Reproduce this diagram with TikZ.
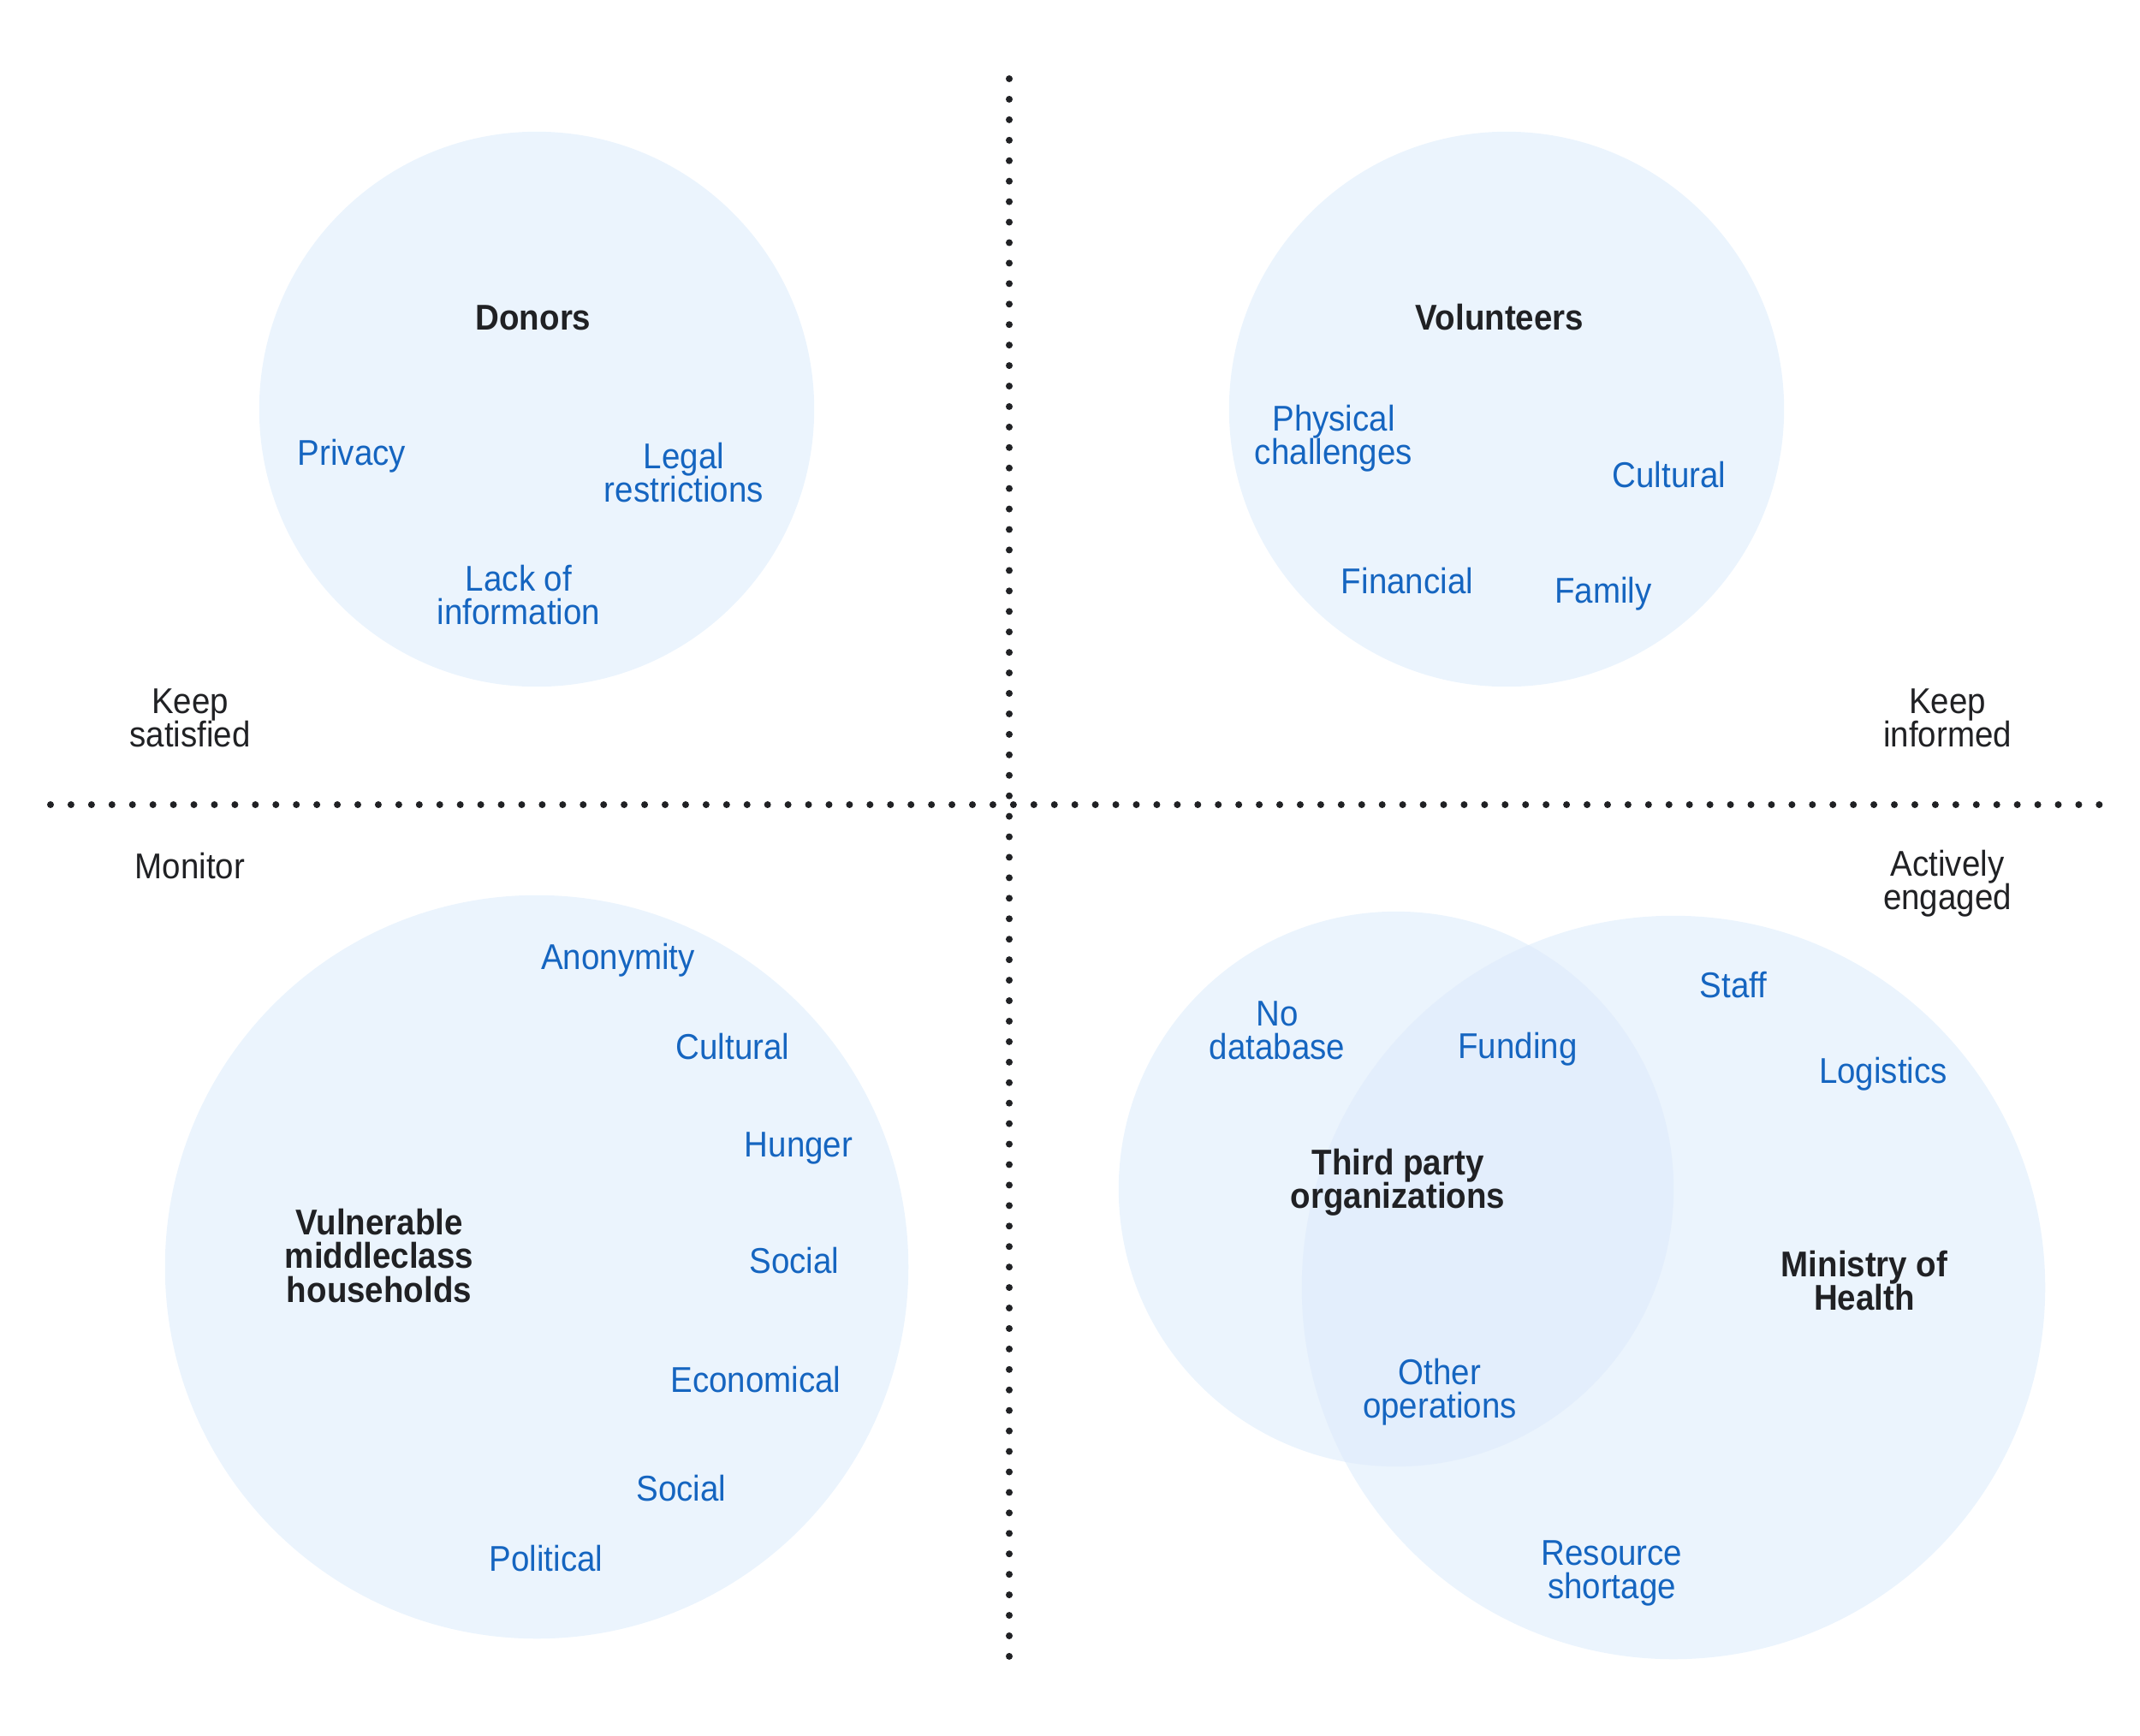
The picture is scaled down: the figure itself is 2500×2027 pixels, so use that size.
\documentclass[tikz,border=0pt]{standalone}
\usepackage{fontspec}
\setmainfont{Liberation Sans}[FakeStretch=0.92]
\usepackage{xcolor}
\usepackage{tikz}
\usetikzlibrary{positioning}
\definecolor{grpfill}{HTML}{EBF4FD}
\definecolor{overlapfill}{HTML}{E3EEFC}
\definecolor{issueblue}{HTML}{1565C0}
\definecolor{headdark}{HTML}{202124}

\begin{document}
\begin{tikzpicture}[x=0.01cm, y=-0.01cm,
    grp/.style={circle, fill=grpfill, inner sep=0pt},
    issue/.style={text=issueblue, align=center, font=\fontsize{11.9}{11.2}\selectfont},
    head/.style={text=headdark, align=center, font=\fontsize{11.9}{11.2}\selectfont\bfseries},
    zone/.style={text=headdark, align=center, font=\fontsize{11.9}{11.2}\selectfont},
    axis/.style={line width=0.08cm, draw=headdark, line cap=round, dash pattern=on 0pt off 0.2392cm}
  ]
  \useasboundingbox (0,0) rectangle (2500,2027);
  % Stakeholder circles
  \node[grp, minimum size=6.48cm] (donors) at (627,478) {};
  \node[grp, minimum size=6.48cm] (volunteers) at (1760,478) {};
  \node[grp, minimum size=8.68cm] (vulnerable) at (627,1480) {};
  \node[grp, minimum size=6.48cm] (thirdparty) at (1631,1389) {};
  \node[grp, minimum size=8.68cm] (ministry) at (1955,1504) {};
  % Overlap of third party and ministry
  \begin{scope}
    \clip (thirdparty.center) circle [radius=3.24cm];
    \fill[overlapfill] (ministry.center) circle [radius=4.34cm];
  \end{scope}
  % Quadrant axes
  \coordinate (vtop) at (1179,92);
  \coordinate (vbot) at (1179,1936);
  \coordinate (hleft) at (59,940);
  \coordinate (hright) at (2453,940);
  \draw[axis] (vtop) -- (vbot);
  \draw[axis] (hleft) -- (hright);
  % Quadrant labels
  \node[zone] (satisfied) at (222,839) {Keep\\satisfied};
  \node[zone] (informed) at (2275,839) {Keep\\informed};
  \node[zone] (monitor) at (222,1012) {Monitor};
  \node[zone] (engaged) at (2275,1032) {Actively\\engaged};
  % Donors
  \node[head] (donorsT) at (623,371) {Donors};
  \node[issue] (privacy) at (411,533) {Privacy};
  \node[issue] (legal) at (799,552) {Legal\\restrictions};
  \node[issue] (lackinfo) at (606,695) {Lack of\\information};
  % Volunteers
  \node[head] (volunteersT) at (1752,371) {Volunteers};
  \node[issue] (physical) at (1558,512) {Physical\\challenges};
  \node[issue] (vcultural) at (1950,555) {Cultural};
  \node[issue] (financial) at (1644,679) {Financial};
  \node[issue] (family) at (1873,694) {Family};
  % Vulnerable households
  \node[head] (vulnerableT) at (443,1467) {Vulnerable\\middleclass\\households};
  \node[issue] (anonymity) at (722,1122) {Anonymity};
  \node[issue] (hcultural) at (856,1223) {Cultural};
  \node[issue] (hunger) at (933,1341) {Hunger};
  \node[issue] (social) at (928,1473) {Social};
  \node[issue] (economical) at (883,1612) {Economical};
  \node[issue] (socialb) at (796,1739) {Social};
  \node[issue] (political) at (638,1821) {Political};
  % Third party and ministry
  \node[head] (thirdpartyT) at (1633,1381) {Third party\\organizations};
  \node[head] (ministryT) at (2178,1496) {Ministry of\\Health};
  \node[issue] (nodb) at (1492,1204) {No\\database};
  \node[issue] (funding) at (1773,1226) {Funding};
  \node[issue] (staff) at (2025,1151) {Staff};
  \node[issue] (logistics) at (2200,1255) {Logistics};
  \node[issue] (otherops) at (1682,1626) {Other\\operations};
  \node[issue] (resource) at (1883,1838) {Resource\\shortage};
\end{tikzpicture}
\end{document}
